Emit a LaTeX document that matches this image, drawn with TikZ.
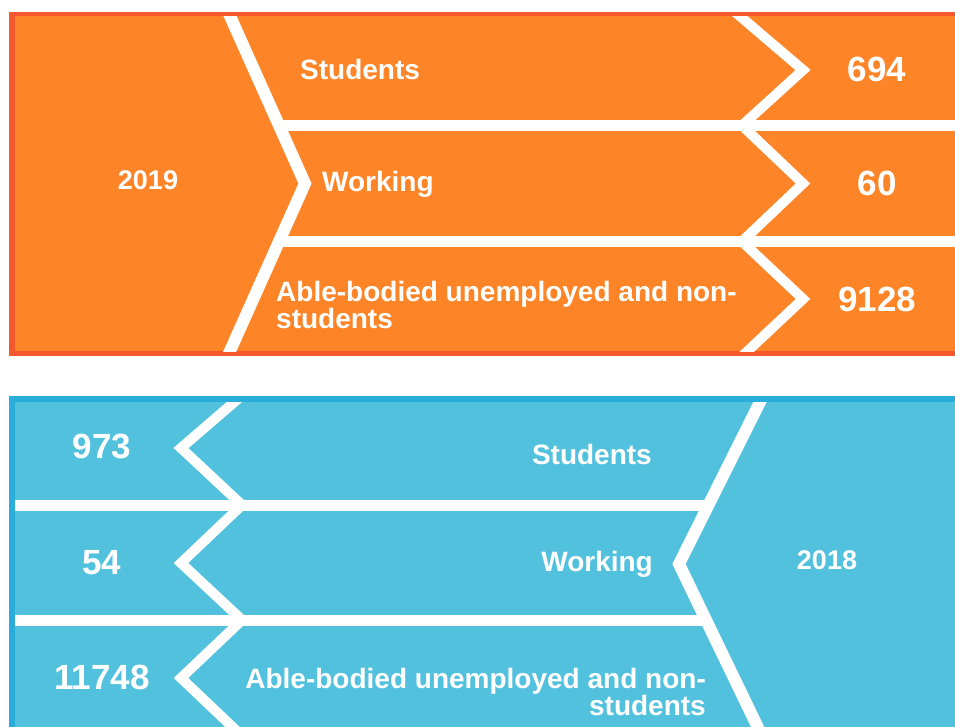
\documentclass[tikz,border=0pt]{standalone}
\usepackage{fontspec}
\setmainfont{Liberation Sans}
\usepackage{xcolor}
\usetikzlibrary{positioning}

\definecolor{panelorange}{HTML}{FD8427}
\definecolor{edgeorange}{HTML}{F4562E}
\definecolor{panelblue}{HTML}{52C1DD}
\definecolor{edgeblue}{HTML}{29AEDB}

\begin{document}
\begin{tikzpicture}[x=1pt, y=-1pt,
    gap/.style={draw=white, line width=10pt},
    rowtext/.style={text=white, inner sep=0pt, font=\bfseries\fontsize{28}{25}\selectfont},
    numtext/.style={text=white, inner sep=0pt, font=\bfseries\fontsize{35}{35}\selectfont},
    yeartext/.style={text=white, inner sep=0pt, font=\bfseries\fontsize{27}{27}\selectfont}]
    \clip (0,0) rectangle (955,726);

    % 2019 panel
    \fill[edgeorange] (9,12) rectangle (965,356);
    \fill[panelorange] (15,16) rectangle (965,351);
    \begin{scope}
        \clip (15,16) rectangle (965,351);
        \draw[gap, line width=12pt] (225.5,6) -- (305,183.5) -- (225.5,361);
        \draw[gap, line width=11pt] (279,125.5) -- (965,125.5);
        \draw[gap, line width=11pt] (279,241.5) -- (965,241.5);
        \draw[gap] (728,6) -- (803,70) -- (742,125.5);
        \draw[gap] (742,125.5) -- (803,183.5) -- (742,241.5);
        \draw[gap] (742,241.5) -- (803,299) -- (737,361);
    \end{scope}

    \node[yeartext] (y19) at (148,180) {2019};
    \node[rowtext, anchor=west] (stud19) at (300,69) {Students};
    \node[rowtext, anchor=west] (work19) at (322,184) {Working};
    \node[rowtext, anchor=west, align=left] (able19) at (276,305)
        {Able-bodied unemployed and non-\\students};
    \node[numtext] (n19a) at (877,69) {694};
    \node[numtext] (n19b) at (877,183) {60};
    \node[numtext] (n19c) at (877,299) {9128};

    % 2018 panel
    \fill[edgeblue] (9,396) rectangle (965,740);
    \fill[panelblue] (15,402) rectangle (965,740);
    \begin{scope}
        \clip (15,402) rectangle (965,740);
        \draw[gap, line width=12pt] (765,392) -- (679,564) -- (762,736);
        \draw[gap, line width=11pt] (5,505) -- (708.5,505);
        \draw[gap, line width=11pt] (5,620) -- (706,620);
        \draw[gap] (246,392) -- (181,448) -- (242,505);
        \draw[gap] (242,505) -- (181,563) -- (242,620);
        \draw[gap] (242,620) -- (181,678) -- (242,736);
    \end{scope}

    \node[yeartext] (y18) at (827,560) {2018};
    \node[rowtext, anchor=east] (stud18) at (652,454) {Students};
    \node[rowtext, anchor=east] (work18) at (653,564) {Working};
    \node[rowtext, anchor=east, align=right] (able18) at (706,692)
        {Able-bodied unemployed and non-\\students};
    \node[numtext] (n18a) at (102,446) {973};
    \node[numtext] (n18b) at (102,563) {54};
    \node[numtext] (n18c) at (102,677) {11748};
\end{tikzpicture}
\end{document}
